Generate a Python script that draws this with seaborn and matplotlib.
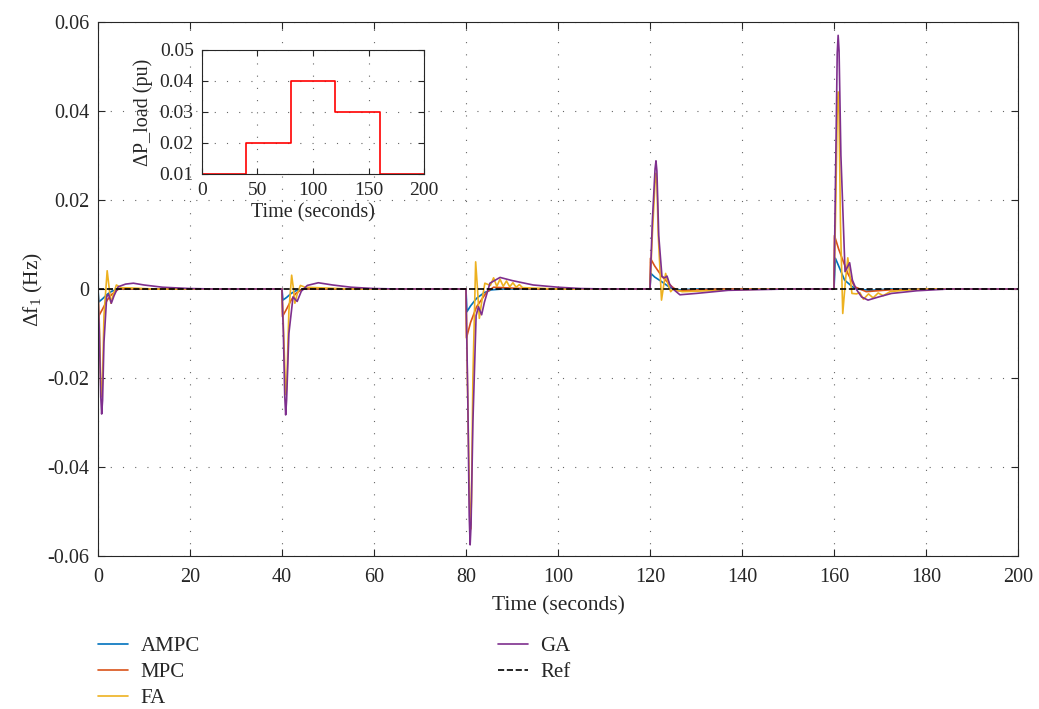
import matplotlib
matplotlib.use("Agg")
import matplotlib.pyplot as plt
import seaborn as sns

# frequency deviation (time in s, value in Hz)
ampc_t = [0, 0.2, 1, 2, 3, 4.5, 40, 40.2, 41, 42, 43, 45,
          80, 80.2, 81, 82.3, 84, 85.5, 88,
          120, 120.2, 121, 122.6, 124.5, 126, 130,
          160, 160.3, 161, 162.3, 164, 165, 168, 172, 200]
ampc_y = [0, -0.0029, -0.0022, -0.0012, -0.0005, 0, 0, -0.0025, -0.0019, -0.0010, -0.0004, 0,
          0, -0.0051, -0.0038, -0.0021, -0.0008, -0.0002, 0,
          0, 0.0035, 0.0027, 0.0016, 0.0002, -0.0002, 0,
          0, 0.0069, 0.0052, 0.0020, 0.0005, 0, -0.0003, 0, 0]

mpc_t = [0, 0.1, 1, 2, 3, 4.5, 40, 40.1, 41, 42, 43, 44.5,
         80, 80.1, 81, 82.3, 84.5, 86, 90, 95,
         120, 120.1, 121, 122.6, 124.8, 126, 130, 135,
         160, 160.1, 161, 161.9, 163, 164.5, 167, 172, 180, 200]
mpc_y = [0, -0.0062, -0.0045, -0.0025, -0.0012, 0, 0, -0.0062, -0.0045, -0.0025, -0.0010, 0,
         0, -0.0110, -0.0075, -0.0040, -0.0007, 0.0004, 0.0002, 0,
         0, 0.0069, 0.0052, 0.0028, 0.0005, -0.0004, -0.0002, 0,
         0, 0.0120, 0.0090, 0.0065, 0.0035, 0.0005, -0.0006, -0.0002, 0, 0]

fa_t = [0, 0.3, 0.6, 0.8, 1.0, 1.3, 2.0, 2.4, 2.8, 3.4, 4.0, 5, 8, 12,
        40, 40.3, 40.7, 40.9, 41.1, 41.5, 42.1, 42.5, 42.8, 43.3, 44, 45, 50, 55,
        80, 80.3, 80.8, 81.0, 81.2, 81.5, 82.1, 82.5, 82.9, 83.4, 84.1,
        85.3, 86.0, 86.7, 87.4, 88.1, 88.8, 89.5, 90.2, 90.9, 91.6, 92.3, 95, 100,
        120, 120.5, 121.1, 121.3, 121.5, 121.8, 122.5, 123.0, 123.4, 124.0, 124.5, 125, 127, 130, 135, 145,
        160, 160.4, 160.7, 160.9, 161.1, 161.4, 161.9, 162.5, 163.0, 163.9, 164.9, 165.6, 166.4, 167.5,
        168.5, 169.6, 170.7, 172.2, 175, 180, 200]
fa_y = [0, -0.0080, -0.0210, -0.0242, -0.0200, -0.0060, 0.0041, 0.0005, -0.0032, -0.0010, 0.0009, 0.0003, 0.0002, 0,
        0, -0.0080, -0.0205, -0.0238, -0.0195, -0.0050, 0.0031, 0.0000, -0.0032, -0.0012, 0.0008, 0.0004, 0.0002, 0,
        0, -0.0200, -0.0490, -0.0540, -0.0470, -0.0200, 0.0061, 0.0000, -0.0066, -0.0030, 0.0013,
        0.0008, 0.0025, 0.0006, 0.0022, 0.0006, 0.0018, 0.0005, 0.0014, 0.0004, 0.0010, 0.0003, 0.0002, 0,
        0, 0.0120, 0.0240, 0.0260, 0.0235, 0.0120, -0.0025, 0.0010, 0.0035, 0.0008, -0.0006, 0, -0.0006, -0.0005, -0.0003, 0,
        0, 0.0200, 0.0400, 0.0443, 0.0390, 0.0150, -0.0055, 0.0020, 0.0070, -0.0010, -0.0011, -0.0008, -0.0023, -0.0011,
        -0.0020, -0.0009, -0.0015, -0.0006, -0.0003, 0, 0]

ga_t = [0, 0.3, 0.6, 0.8, 1.0, 1.3, 1.9, 2.3, 2.9, 3.5, 4.4, 6, 7.7, 10, 14, 20, 25,
        40, 40.3, 40.6, 40.8, 41.0, 41.5, 42.4, 43.3, 44.2, 45.5, 47.9, 51, 55, 60, 65,
        80, 80.4, 80.7, 80.9, 81.1, 81.5, 82.2, 82.7, 83.4, 84.0, 85.2, 87.4, 90, 94.6, 100, 105, 110,
        120, 120.5, 121.1, 121.3, 121.5, 121.9, 122.6, 123.2, 123.7, 124.3, 125, 126.5, 130, 137, 150,
        160, 160.4, 160.7, 160.9, 161.1, 161.5, 162.4, 163.4, 164.0, 164.8, 166, 167.4, 170, 172.5, 178, 185, 200]
ga_y = [0, -0.0100, -0.0240, -0.0281, -0.0250, -0.0120, -0.0017, -0.0012, -0.0032, -0.0015, 0.0005, 0.0011, 0.0013, 0.0009, 0.0004, 0.0001, 0,
        0, -0.0100, -0.0240, -0.0283, -0.0250, -0.0100, -0.0018, -0.0028, -0.0005, 0.0008, 0.0014, 0.0009, 0.0004, 0.0001, 0,
        0, -0.0250, -0.0510, -0.0575, -0.0530, -0.0300, -0.0060, -0.0040, -0.0058, -0.0030, 0.0013, 0.0026, 0.0019, 0.0009, 0.0004, 0.0001, 0,
        0, 0.0150, 0.0270, 0.0288, 0.0265, 0.0120, 0.0028, 0.0025, 0.0029, 0.0010, 0, -0.0013, -0.0010, -0.0003, 0,
        0, 0.0300, 0.0530, 0.0570, 0.0535, 0.0300, 0.0039, 0.0059, 0.0020, 0, -0.0018, -0.0025, -0.0017, -0.0010, -0.0004, 0, 0]

ref_t = [0, 200]
ref_y = [0, 0]

# load disturbance (inset)
load_t = [0, 40, 80, 120, 160, 200]
load_v = [0.01, 0.02, 0.04, 0.03, 0.01, 0.01]

yticks = [-0.06, -0.04, -0.02, 0, 0.02, 0.04, 0.06]
ytick_labels = ["-0.06", "-0.04", "-0.02", "0", "0.02", "0.04", "0.06"]
xticks = [0, 20, 40, 60, 80, 100, 120, 140, 160, 180, 200]
in_yticks = [0.01, 0.02, 0.03, 0.04, 0.05]
in_ytick_labels = ["0.01", "0.02", "0.03", "0.04", "0.05"]
in_xticks = [0, 50, 100, 150, 200]

sns.set_style("ticks")
plt.rcParams["font.family"] = ["Liberation Serif", "DejaVu Serif"]
plt.rcParams["mathtext.fontset"] = "custom"
plt.rcParams["mathtext.rm"] = "Liberation Serif"
plt.rcParams["font.size"] = 14
plt.rcParams["xtick.direction"] = "in"
plt.rcParams["ytick.direction"] = "in"

fig = plt.figure(figsize=(10.39, 7.09), dpi=100)
ax = fig.add_axes([0.0943, 0.2158, 0.8855, 0.7532])

series = [
    ("AMPC", ampc_t, ampc_y, "#0072BD", "-"),
    ("MPC", mpc_t, mpc_y, "#D95319", "-"),
    ("FA", fa_t, fa_y, "#EDB120", "-"),
    ("GA", ga_t, ga_y, "#7E2F8E", "-"),
    ("Ref", ref_t, ref_y, "black", "--"),
]
for name, t, y, c, ls in series:
    sns.lineplot(x=t, y=y, ax=ax, color=c, linestyle=ls, lw=1.2,
                 label=name, legend=False, estimator=None, sort=False)

gridkw = dict(color="#666666", linestyle=(0, (1, 10)), linewidth=0.8)
ax.set_xlim(0, 200)
ax.set_ylim(-0.06, 0.06)
ax.set_xticks(xticks)
ax.set_yticks(yticks)
ax.set_yticklabels(ytick_labels)
ax.grid(True, **gridkw)
ax.tick_params(top=True, right=True, length=5, colors="#262626", labelsize=14.5)
ax.tick_params(axis="x", pad=9)
ax.tick_params(axis="y", pad=6)
for s in ax.spines.values():
    s.set_color("#262626")
    s.set_linewidth(0.8)
ax.set_xlabel("Time (seconds)", fontsize=15.5, labelpad=6)
ax.set_ylabel("Δf$_{\\mathrm{1}}$ (Hz)", fontsize=15.5, labelpad=2)

handles, labels = ax.get_legend_handles_labels()
fig.legend(handles, labels, ncol=2, loc="upper left",
           bbox_to_anchor=(0.0943, 0.1025), frameon=False, borderpad=0,
           borderaxespad=0, handlelength=1.45, handletextpad=0.6,
           columnspacing=14.3, labelspacing=0.32, fontsize=15)

# inset with the load steps
ins = fig.add_axes([0.1944, 0.7546, 0.2137, 0.1749])
sns.lineplot(x=load_t, y=load_v, ax=ins, color="#FF0000", lw=1.2,
             drawstyle="steps-post", estimator=None, sort=False)
ins.set_xlim(0, 200)
ins.set_ylim(0.01, 0.05)
ins.set_xticks(in_xticks)
ins.set_yticks(in_yticks)
ins.set_yticklabels(in_ytick_labels)
ins.grid(True, **gridkw)
ins.tick_params(top=True, right=True, length=4, colors="#262626", labelsize=14)
ins.tick_params(axis="x", pad=6)
ins.tick_params(axis="y", pad=6)
for s in ins.spines.values():
    s.set_color("#262626")
    s.set_linewidth(0.8)
ins.set_xlabel("Time (seconds)", fontsize=14.5, labelpad=3)
ins.set_ylabel("ΔP_load (pu)", fontsize=14.5, labelpad=5)

fig.savefig("out.png", dpi=100)
